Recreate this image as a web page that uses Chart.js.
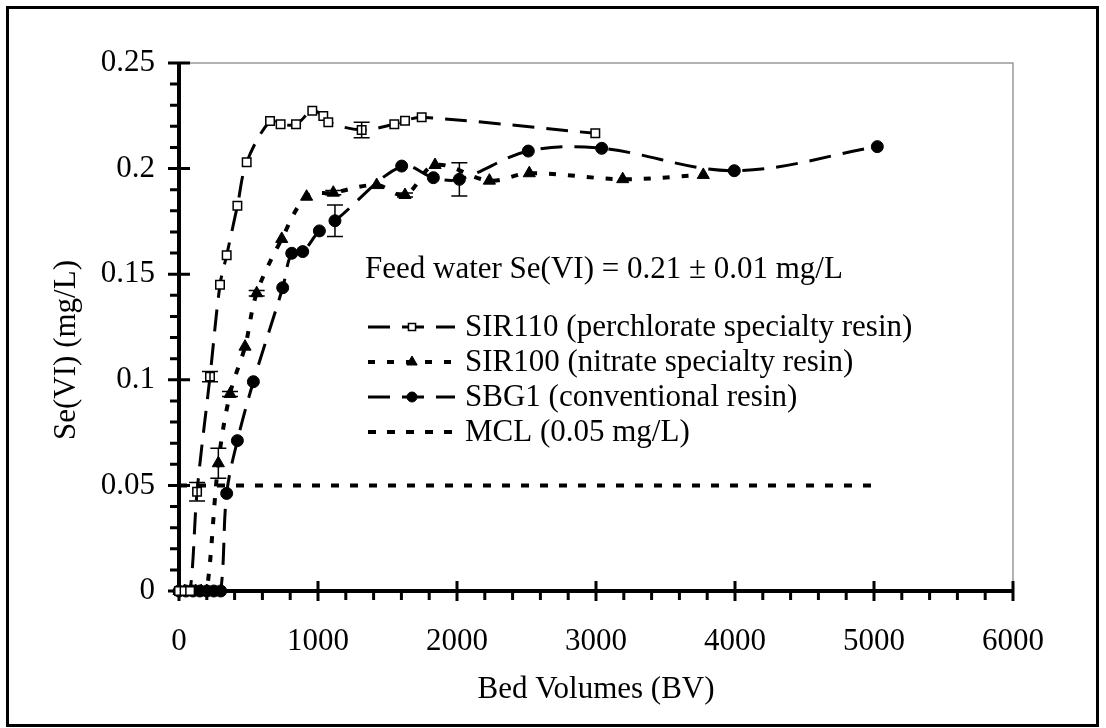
<!DOCTYPE html>
<html>
<head>
<meta charset="utf-8">
<script src="https://cdn.jsdelivr.net/npm/chart.js@4/dist/chart.umd.min.js"></script>
<style>
html, body { margin: 0; padding: 0; background: #fff; }
#wrap { position: relative; width: 1106px; height: 728px; }
</style>
</head>
<body>
<div id="wrap"><canvas id="grafica" width="1106" height="728"></canvas></div>
<script>
// SIR110 (perchlorate specialty resin)
const bvSir110  = [0, 40, 80, 130, 223, 295, 343, 420, 487, 655, 731, 842, 959, 1038, 1074, 1314, 1549, 1626, 1746, 2995];
const seSir110  = [0, 0, 0, 0.047, 0.1015, 0.145, 0.159, 0.1824, 0.203, 0.2225, 0.221, 0.221, 0.2274, 0.2249, 0.222, 0.2183, 0.221, 0.2227, 0.2243, 0.2167];
const errSir110 = [0, 0, 0, 0.0044, 0.0024, 0, 0, 0, 0, 0, 0, 0, 0, 0, 0, 0.0037, 0, 0, 0, 0];

// SIR100 (nitrate specialty resin)
const bvSir100  = [0, 40, 80, 120, 160, 200, 283, 367, 475, 559, 739, 918, 1110, 1422, 1626, 1842, 2233, 2520, 3192, 3772];
const seSir100  = [0, 0, 0, 0, 0, 0, 0.0605, 0.0933, 0.1157, 0.141, 0.1667, 0.1867, 0.1886, 0.1922, 0.1875, 0.2017, 0.1943, 0.1978, 0.195, 0.197];
const errSir100 = [0, 0, 0, 0, 0, 0, 0.0071, 0.0012, 0, 0.0013, 0, 0, 0.001, 0, 0.001, 0, 0, 0, 0, 0];

// SBG1 (conventional resin)
const bvSbg1  = [0, 50, 100, 150, 200, 250, 300, 343, 420, 535, 746, 811, 890, 1010, 1122, 1602, 1830, 2017, 2513, 3041, 3995, 5024];
const seSbg1  = [0, 0, 0, 0, 0, 0, 0, 0.0462, 0.0712, 0.0991, 0.1436, 0.1599, 0.1607, 0.1705, 0.1753, 0.2012, 0.1957, 0.1949, 0.2083, 0.2096, 0.199, 0.2104];
const errSbg1 = [0, 0, 0, 0, 0, 0, 0, 0, 0, 0, 0, 0, 0, 0, 0.0075, 0, 0, 0.0079, 0, 0, 0, 0];

// MCL (0.05 mg/L)
const bvMcl = [0, 5000];
const seMcl = [0.05, 0.05];

const xTickLabels = ['0', '1000', '2000', '3000', '4000', '5000', '6000'];
const yTickLabels = ['0', '0.05', '0.1', '0.15', '0.2', '0.25'];

const FUENTE = '31px "Liberation Serif", "Times New Roman", serif';

function puntos(xs, ys) {
    return xs.map((x, i) => ({ x: x, y: ys[i] }));
}

const series = [
    { label: 'SIR110 (perchlorate specialty resin)', data: puntos(bvSir110, seSir110), err: errSir110,
      dash: [22, 12], width: 3, estilo: 'rect', radio: 6, relleno: '#fff', bordePunto: 1.5 },
    { label: 'SIR100 (nitrate specialty resin)', data: puntos(bvSir100, seSir100), err: errSir100,
      dash: [7, 12], width: 4, estilo: 'triangle', radio: 7, relleno: '#000', bordePunto: 1 },
    { label: 'SBG1 (conventional resin)', data: puntos(bvSbg1, seSbg1), err: errSbg1,
      dash: [22, 12], width: 3, estilo: 'circle', radio: 6, relleno: '#000', bordePunto: 1 },
    { label: 'MCL (0.05 mg/L)', data: puntos(bvMcl, seMcl), err: null,
      dash: [8, 11], width: 4, estilo: false, radio: 0, relleno: '#000', bordePunto: 0 }
];

// Ejes, marcas, textos y leyenda
const ejesPlugin = {
    id: 'ejes',
    beforeDatasetsDraw(chart) {
        const ctx = chart.ctx;
        const a = chart.chartArea;
        const sx = chart.scales.x, sy = chart.scales.y;
        ctx.save();
        // marco exterior
        ctx.strokeStyle = '#000';
        ctx.lineWidth = 3;
        ctx.strokeRect(7.5, 7.5, 1090, 718);
        // borde superior y derecho del área
        ctx.strokeStyle = '#999';
        ctx.lineWidth = 1.5;
        ctx.beginPath();
        ctx.moveTo(a.left, a.top); ctx.lineTo(a.right, a.top); ctx.lineTo(a.right, a.bottom);
        ctx.stroke();
        // ejes
        ctx.strokeStyle = '#000';
        ctx.lineWidth = 4;
        ctx.beginPath();
        ctx.moveTo(a.left, a.top - 1); ctx.lineTo(a.left, a.bottom + 2);
        ctx.moveTo(a.left - 2, a.bottom); ctx.lineTo(a.right + 1, a.bottom);
        ctx.stroke();
        ctx.lineWidth = 3;
        ctx.beginPath();
        for (let v = 0; v <= 6000; v += 200) {
            const px = sx.getPixelForValue(v);
            if (v % 1000 === 0) { ctx.moveTo(px, a.bottom - 10); ctx.lineTo(px, a.bottom + 10); }
            else { ctx.moveTo(px, a.bottom); ctx.lineTo(px, a.bottom + 9); }
        }
        for (let k = 0; k <= 25; k++) {
            const py = sy.getPixelForValue(k / 100);
            if (k % 5 === 0) { ctx.moveTo(a.left - 11, py); ctx.lineTo(a.left + 11, py); }
            else { ctx.moveTo(a.left - 9, py); ctx.lineTo(a.left, py); }
        }
        ctx.stroke();
        // etiquetas
        ctx.fillStyle = '#000';
        ctx.font = FUENTE;
        ctx.textAlign = 'center';
        ctx.textBaseline = 'middle';
        xTickLabels.forEach(t => ctx.fillText(t, sx.getPixelForValue(Number(t)), 642));
        ctx.textAlign = 'right';
        yTickLabels.forEach(t => ctx.fillText(t, 155, sy.getPixelForValue(Number(t))));
        // títulos de ejes
        ctx.textAlign = 'center';
        ctx.fillText('Bed Volumes (BV)', (a.left + a.right) / 2, 690);
        ctx.save();
        ctx.translate(67, 350);
        ctx.rotate(-Math.PI / 2);
        ctx.fillText('Se(VI) (mg/L)', 0, 0);
        ctx.restore();
        // nota del agua de alimentación
        ctx.textAlign = 'left';
        ctx.fillText('Feed water Se(VI) = 0.21 \u00b1 0.01 mg/L', 365, 270);
        // leyenda
        const filas = [327, 362, 397, 432];
        series.forEach((s, i) => {
            const y = filas[i];
            ctx.save();
            ctx.strokeStyle = '#000';
            ctx.lineWidth = s.width;
            ctx.setLineDash(s.dash);
            ctx.beginPath();
            ctx.moveTo(368, y); ctx.lineTo(455, y);
            ctx.stroke();
            ctx.restore();
            if (s.estilo) {
                ctx.save();
                ctx.fillStyle = s.relleno;
                ctx.strokeStyle = '#000';
                ctx.lineWidth = s.bordePunto;
                Chart.helpers.drawPoint(ctx, { pointStyle: s.estilo, radius: s.radio - 1, borderWidth: s.bordePunto }, 412, y);
                ctx.restore();
            }
            ctx.fillStyle = '#000';
            ctx.fillText(s.label, 465, y + 1);
        });
        ctx.restore();
    },
    // barras de error
    afterDatasetsDraw(chart) {
        const ctx = chart.ctx;
        const sx = chart.scales.x, sy = chart.scales.y;
        ctx.save();
        ctx.strokeStyle = '#000';
        ctx.lineWidth = 1.5;
        series.forEach(s => {
            if (!s.err) return;
            s.data.forEach((p, i) => {
                const e = s.err[i];
                if (!e) return;
                const px = sx.getPixelForValue(p.x);
                const y1 = sy.getPixelForValue(p.y + e);
                const y2 = sy.getPixelForValue(p.y - e);
                ctx.beginPath();
                ctx.moveTo(px, y1); ctx.lineTo(px, y2);
                ctx.moveTo(px - 8, y1); ctx.lineTo(px + 8, y1);
                ctx.moveTo(px - 8, y2); ctx.lineTo(px + 8, y2);
                ctx.stroke();
            });
        });
        ctx.restore();
    }
};

function setupChart() {
    const ctx = document.getElementById('grafica').getContext('2d');
    new Chart(ctx, {
        type: 'scatter',
        data: {
            datasets: series.map(s => ({
                label: s.label,
                data: s.data,
                showLine: true,
                borderColor: '#000',
                borderWidth: s.width,
                borderDash: s.dash,
                tension: s.estilo ? 0.35 : 0,
                pointStyle: s.estilo || 'circle',
                pointRadius: s.radio,
                pointBackgroundColor: s.relleno,
                pointBorderColor: '#000',
                pointBorderWidth: s.bordePunto,
                clip: false
            }))
        },
        options: {
            responsive: false,
            animation: false,
            devicePixelRatio: 1,
            layout: { padding: { left: 0, right: 93, top: 63, bottom: 0 } },
            plugins: { legend: { display: false }, tooltip: { enabled: false } },
            scales: {
                x: {
                    type: 'linear', min: 0, max: 6000,
                    ticks: { display: false },
                    grid: { display: false },
                    border: { display: false },
                    afterFit: s => { s.height = 137; }
                },
                y: {
                    type: 'linear', min: 0, max: 0.25,
                    ticks: { display: false },
                    grid: { display: false },
                    border: { display: false },
                    afterFit: s => { s.width = 179; }
                }
            }
        },
        plugins: [ejesPlugin]
    });
}

document.addEventListener('DOMContentLoaded', setupChart);
</script>
</body>
</html>
